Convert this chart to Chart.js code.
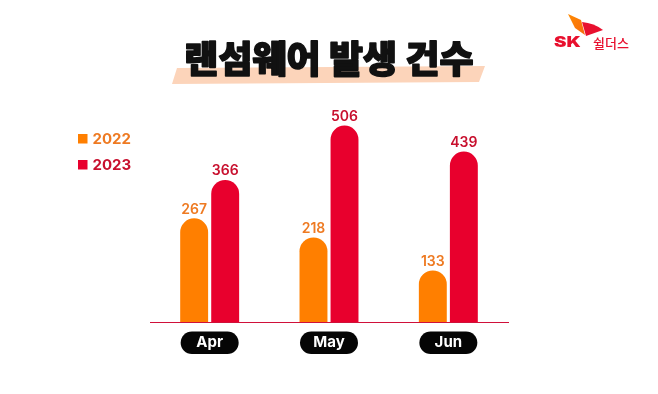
<!DOCTYPE html>
<html>
<head>
<meta charset="utf-8">
<script src="https://cdn.jsdelivr.net/npm/chart.js@4/dist/chart.umd.min.js"></script>
<style>
  html, body { margin: 0; padding: 0; background: #fff; }
  #wrap { width: 658px; height: 394px; }
</style>
</head>
<body>
<div id="wrap"><canvas id="ransomChart"></canvas></div>
<script>
const titleText = '랜섬웨어 발생 건수';
const months = ['Apr', 'May', 'Jun'];
const years = ['2022', '2023'];
const counts2022 = [267, 218, 133];
const counts2023 = [366, 506, 439];

const barColors = ['#FF7F00', '#E8002D'];
const labelColors = ['#EE7A22', '#C8102E'];

// title, highlight stripe, logo, legend and tick pills
const decoPlugin = {
    id: 'deco',
    beforeDraw(chart) {
        const ctx = chart.ctx;
        ctx.save();
        // peach stripe under the title
        ctx.fillStyle = '#FCD4BA';
        ctx.beginPath();
        ctx.moveTo(177, 68);
        ctx.lineTo(485, 66);
        ctx.lineTo(479, 82);
        ctx.lineTo(172, 84);
        ctx.closePath();
        ctx.fill();

        ctx.fillStyle = '#111';
        ctx.strokeStyle = '#111';
        ctx.lineWidth = 1.6;
        ctx.lineJoin = 'round';
        ctx.font = '900 37px "Noto Sans CJK KR"';
        ctx.textAlign = 'center';
        ctx.textBaseline = 'middle';
        ctx.fillText(titleText, 329, 59);
        ctx.strokeText(titleText, 329, 59);

        // logo
        const g = ctx.createLinearGradient(568, 15, 600, 35);
        g.addColorStop(0, '#FF8A00');
        g.addColorStop(1, '#F25A1A');
        ctx.fillStyle = g;
        ctx.beginPath();
        ctx.moveTo(568, 14);
        ctx.lineTo(581, 20);
        ctx.lineTo(585, 35);
        ctx.lineTo(575, 28);
        ctx.closePath();
        ctx.fill();
        ctx.fillStyle = '#E8102E';
        ctx.beginPath();
        ctx.moveTo(582, 22);
        ctx.quadraticCurveTo(594, 23, 603, 30);
        ctx.lineTo(586, 36);
        ctx.closePath();
        ctx.fill();

        ctx.fillStyle = '#E8102E';
        ctx.textAlign = 'left';
        ctx.textBaseline = 'alphabetic';
        ctx.save();
        ctx.translate(554, 46.5);
        ctx.scale(1.25, 1);
        ctx.font = '900 15px Inter';
        ctx.fillText('SK', 0, 0);
        ctx.restore();
        ctx.font = '500 13px "Noto Sans CJK KR"';
        ctx.fillText('쉴더스', 593, 47.5);

        // legend from the datasets
        chart.data.datasets.forEach((ds, i) => {
            const y = 134 + i * 26;
            ctx.fillStyle = ds.backgroundColor;
            ctx.fillRect(78, y, 9.5, 9.5);
            ctx.fillStyle = labelColors[i];
            ctx.font = 'bold 15px Inter';
            ctx.textBaseline = 'middle';
            ctx.fillText(ds.label, 92.5, y + 5);
        });

        // black pills behind month ticks
        const xScale = chart.scales.x;
        ctx.fillStyle = '#050505';
        xScale.ticks.forEach((t, i) => {
            const cx = xScale.getPixelForTick(i);
            ctx.beginPath();
            ctx.roundRect(cx - 29, chart.chartArea.bottom + 9.5, 58, 22.5, 11.25);
            ctx.fill();
        });
        ctx.restore();
    },
    afterDatasetsDraw(chart) {
        const ctx = chart.ctx;
        ctx.save();
        ctx.font = '600 14px Inter';
        ctx.textAlign = 'center';
        ctx.textBaseline = 'middle';
        chart.data.datasets.forEach((ds, i) => {
            ctx.fillStyle = labelColors[i];
            chart.getDatasetMeta(i).data.forEach((bar, j) => {
                ctx.fillText(ds.data[j], bar.x, bar.y - 9);
            });
        });
        ctx.restore();
    }
};

new Chart(document.getElementById('ransomChart'), {
    type: 'bar',
    data: {
        labels: months,
        datasets: [
            { label: years[0], data: counts2022, backgroundColor: barColors[0] },
            { label: years[1], data: counts2023, backgroundColor: barColors[1] }
        ]
    },
    options: {
        responsive: true,
        maintainAspectRatio: false,
        animation: false,
        categoryPercentage: 0.52,
        barPercentage: 0.9,
        borderRadius: 14,
        borderSkipped: 'start',
        layout: { padding: { left: 150, right: 150, top: 100, bottom: 31 } },
        plugins: {
            legend: { display: false },
            tooltip: { enabled: false }
        },
        scales: {
            x: {
                grid: { display: false, drawTicks: false },
                border: { display: true, color: '#D0103A', width: 1 },
                ticks: { color: '#fff', padding: 11.5, font: { family: 'Inter', size: 15, weight: 'bold' } }
            },
            y: { display: false, min: 0, max: 572 }
        }
    },
    plugins: [decoPlugin]
});
</script>
</body>
</html>
